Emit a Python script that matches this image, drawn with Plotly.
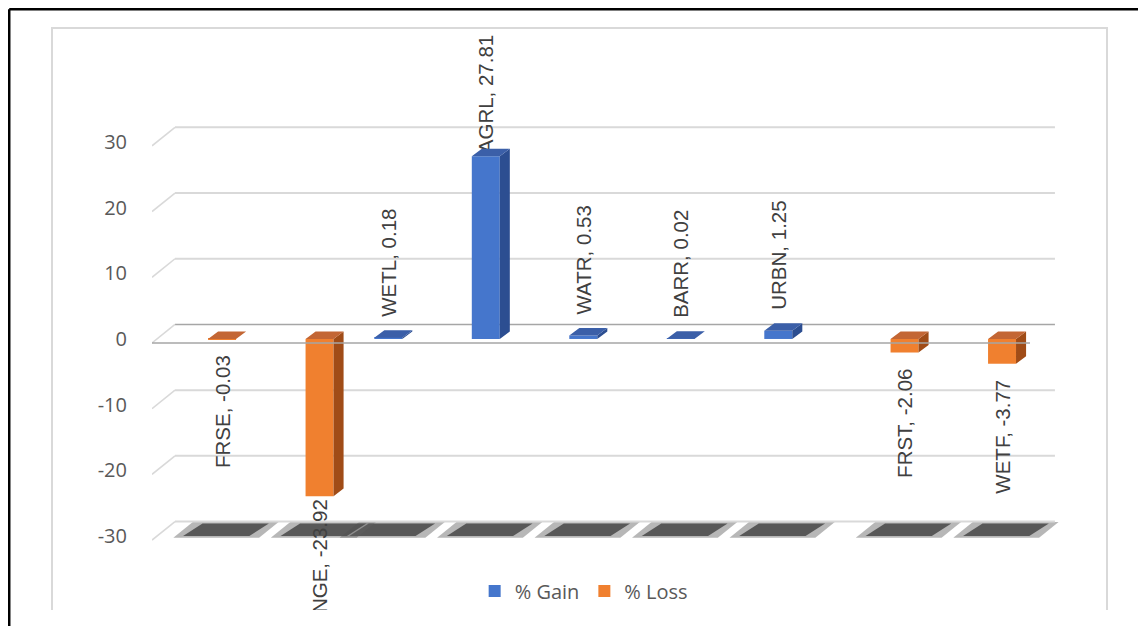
import plotly.graph_objects as go

# ---------------- data ----------------
categories = ["FRSE", "RNGE", "WETL", "AGRL", "WATR", "BARR", "URBN", "FRST", "WETF"]
gain = [None, None, 0.18, 27.81, 0.53, 0.02, 1.25, None, None]
loss = [-0.03, -23.92, None, None, None, None, None, -2.06, -3.77]
tick_vals = [-30, -20, -10, 0, 10, 20, 30]
tick_text = ["-30", "-20", "-10", "0", "10", "20", "30"]
series_names = ["% Gain", "% Loss"]

# ---------------- style / geometry ----------------
PX_Y = 6.57                 # pixels per value unit (for pixel-based offsets)
BAR_W = 0.287               # front face width (category units)
OFFSET = {"gain": -0.325, "loss": -0.03}
DX, DY = 0.103, 1.15        # 3-D depth of a bar
BACK_DY = 2.21              # back wall shift of gridlines
FRONT_DY = -0.61            # front plane shift
X_FRONT, X_BACK, X_END_BACK, X_END_FRONT = -0.605, -0.369, 8.656, 8.40
COL = {
    "gain": {"front": "#4576cc", "side": "#2c4e91", "top": "#3b5fa8"},
    "loss": {"front": "#f0802f", "side": "#a04c17", "top": "#c36634"},
}
GRID = "#d9d9d9"
ZERO = "#a6a6a6"
TXT = "#595959"
LBL = "#404040"


def faces(vals, off):
    sx, sy, tx, ty = [], [], [], []
    for i, v in enumerate(vals):
        if v is None:
            continue
        a = i + off
        b = a + BAR_W
        lo, hi = min(0, v), max(0, v)
        sx += [b, b + DX, b + DX, b, b, None]
        sy += [lo, lo + DY, hi + DY, hi, lo, None]
        tx += [a, b, b + DX, a + DX, a, None]
        ty += [hi, hi, hi + DY, hi + DY, hi, None]
    return sx, sy, tx, ty


def shadow_paths(vals, off, half, y0, y1, sb, st):
    paths = []
    for i, v in enumerate(vals):
        if v is None:
            continue
        c = i + off + BAR_W / 2
        pts = [(c + sb - half, y0), (c + sb + half, y0), (c + st + half, y1), (c + st - half, y1)]
        paths.append("M " + " L ".join(f"{x:.4f},{y:.4f}" for x, y in pts) + " Z")
    return paths


def label_end(vals):
    out = []
    for v in vals:
        if v is None:
            out.append(None)
        elif abs(v) > 10:
            out.append(v)
        elif v >= 0:
            out.append(v + 18 / PX_Y)
        else:
            out.append(v - 13 / PX_Y)
    return out


x_idx = list(range(len(categories)))
fig = go.Figure()

# bars: front faces (legend) + side and top faces
for key, vals, name in (("gain", gain, series_names[0]), ("loss", loss, series_names[1])):
    fig.add_trace(go.Bar(x=x_idx, y=vals, base=0, name=name, offset=OFFSET[key], width=BAR_W,
                         marker=dict(color=COL[key]["front"], line=dict(width=0)),
                         hovertext=categories, showlegend=True))
    sx, sy, tx, ty = faces(vals, OFFSET[key])
    fig.add_trace(go.Scatter(x=sx, y=sy, fill="toself", mode="lines", line=dict(width=0),
                             fillcolor=COL[key]["side"], hoverinfo="skip", showlegend=False))
    fig.add_trace(go.Scatter(x=tx, y=ty, fill="toself", mode="lines", line=dict(width=0),
                             fillcolor=COL[key]["top"], hoverinfo="skip", showlegend=False))

# data labels (carried by invisible bars, clipped to the chart area)
for key, vals in (("gain", gain), ("loss", loss)):
    texts = [None if v is None else f"{c}, {v:.2f}" for c, v in zip(categories, vals)]
    fig.add_trace(go.Bar(x=x_idx, y=label_end(vals), base=0, offset=OFFSET[key], width=BAR_W,
                         marker=dict(color="rgba(0,0,0,0)", line=dict(width=0)),
                         text=texts, textposition="outside", textangle=-90,
                         constraintext="none", cliponaxis=True,
                         outsidetextfont=dict(family="Liberation Sans, Arial, sans-serif", size=20.5, color=LBL),
                         hoverinfo="skip", showlegend=False))

shapes = []
# floor shadows (soft outer + dark core), below all traces
for key, vals in (("gain", gain), ("loss", loss)):
    for p in shadow_paths(vals, OFFSET[key], 0.44, -30.25, -27.85, -0.06, 0.14):
        shapes.append(dict(type="path", xref="x", yref="y", path=p, layer="below",
                           fillcolor="rgba(95,95,95,0.45)", line=dict(width=0)))
    for p in shadow_paths(vals, OFFSET[key], 0.34, -30.0, -28.1, -0.06, 0.14):
        shapes.append(dict(type="path", xref="x", yref="y", path=p, layer="below",
                           fillcolor="rgba(78,78,78,0.9)", line=dict(width=0)))

# gridlines (back wall + left diagonal)
for v in tick_vals:
    shapes.append(dict(type="line", xref="x", yref="y", x0=X_BACK, x1=X_END_BACK,
                       y0=v + BACK_DY, y1=v + BACK_DY, layer="below",
                       line=dict(color=ZERO if v == 0 else GRID, width=1.6 if v == 0 else 2)))
    shapes.append(dict(type="line", xref="x", yref="y", x0=X_FRONT, x1=X_BACK,
                       y0=v + FRONT_DY, y1=v + BACK_DY, layer="below",
                       line=dict(color=GRID, width=1.6)))
shapes.append(dict(type="line", xref="x", yref="y", x0=X_FRONT, x1=X_END_FRONT,
                   y0=FRONT_DY, y1=FRONT_DY, layer="above", line=dict(color=ZERO, width=1.6)))
# chart area border (open at the bottom)
shapes.append(dict(type="path", xref="paper", yref="paper",
                   path="M -0.1047,0 L -0.1047,1 L 1,1 L 1,0", line=dict(color=GRID, width=2)))
# outer black frame
shapes.append(dict(type="line", xref="paper", yref="paper", x0=-0.1495, x1=1.06, y0=1.0323, y1=1.0323,
                   line=dict(color="black", width=2.5)))
shapes.append(dict(type="line", xref="paper", yref="paper", x0=-0.1495, x1=-0.1495, y0=-0.06, y1=1.0323,
                   line=dict(color="black", width=2.5)))

fig.update_layout(
    width=1138, height=618,
    margin=dict(l=144, r=39, t=20, b=16, pad=0),
    paper_bgcolor="white", plot_bgcolor="white",
    barmode="overlay",
    shapes=shapes,
    xaxis=dict(range=[-0.605, 9.190], visible=False, fixedrange=True),
    yaxis=dict(range=[-41.25, 47.33], tickvals=tick_vals, ticktext=tick_text, ticks="outside", ticklen=20,
               tickcolor="rgba(0,0,0,0)", showgrid=False, zeroline=False, showline=False,
               tickfont=dict(family="Open Sans, sans-serif", size=20, color=TXT), fixedrange=True),
    legend=dict(orientation="h", x=0.452, xanchor="center", y=0.0326, yanchor="middle",
                font=dict(family="Open Sans, sans-serif", size=20, color=TXT),
                bgcolor="rgba(0,0,0,0)", traceorder="normal"),
    showlegend=True,
)

fig.write_html("out.html")
